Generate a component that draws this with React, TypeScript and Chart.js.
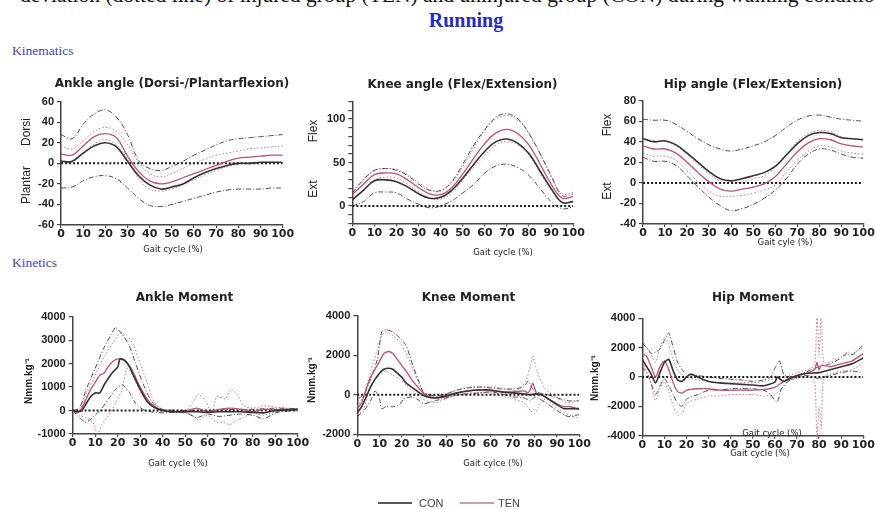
import React, { useEffect, useRef } from 'react';
import { Chart, registerables } from 'chart.js';
Chart.register(...registerables);

// ---------- data ----------
const GAIT = [0, 5, 10, 15, 20, 25, 30, 35, 40, 45, 50, 55, 60, 65, 70, 75, 80, 85, 90, 95, 100];
const X_TICKS = [0, 10, 20, 30, 40, 50, 60, 70, 80, 90, 100];

// Ankle angle
const ankConMean = [2, 2, 10, 17, 20, 16, 2, -12, -21, -25, -23, -20, -14, -9, -5, -2, 0, 0, 1, 1, 1];
const ankTenMean = [9, 8, 17, 26, 29, 25, 7, -8, -17, -20, -18, -14, -10, -6, -2, 2, 5, 6, 7, 8, 8];
const ankConUp = [28, 24, 38, 48, 52, 45, 28, 3, -5, -7, -3, 2, 8, 13, 18, 22, 24, 25, 26, 27, 28];
const ankConLo = [-24, -23, -17, -13, -12, -15, -24, -34, -41, -42, -40, -37, -34, -31, -28, -26, -25, -25, -25, -24, -24];
const ankTenUp = [17, 14, 22, 31, 35, 31, 18, 1, -10, -13, -10, -5, 0, 4, 8, 10, 12, 14, 15, 16, 17];
const ankTenLo = [2, 1, 10, 19, 23, 18, 4, -15, -25, -27, -25, -21, -16, -11, -7, -3, -1, 0, 1, 1, 1];

// Knee angle
const kneConMean = [7, 18, 29, 30, 28, 22, 14, 9, 10, 18, 32, 48, 63, 74, 77, 72, 60, 40, 20, 4, 5];
const kneTenMean = [13, 25, 36, 38, 37, 30, 21, 14, 13, 21, 37, 55, 72, 84, 88, 83, 70, 48, 25, 9, 11];
const kneConUp = [15, 30, 41, 43, 41, 35, 25, 18, 18, 28, 48, 70, 88, 102, 106, 100, 83, 60, 35, 12, 14];
const kneConLo = [0, 5, 15, 16, 15, 8, 2, -2, 0, 6, 15, 25, 38, 46, 48, 44, 35, 20, 5, -3, -1];
const kneTenUp = [18, 30, 41, 43, 42, 36, 27, 19, 17, 27, 45, 67, 87, 100, 104, 98, 84, 60, 33, 14, 16];
const kneTenLo = [8, 18, 30, 33, 32, 25, 16, 9, 8, 15, 30, 45, 58, 70, 74, 70, 58, 38, 18, 4, 6];

// Hip angle
const hipConMean = [43, 40, 41, 37, 29, 20, 11, 4, 2, 4, 7, 10, 16, 27, 38, 46, 49, 48, 44, 43, 42];
const hipTenMean = [36, 33, 33, 29, 20, 10, 1, -6, -8, -6, -4, -1, 6, 18, 30, 39, 43, 42, 38, 36, 35];
const hipConUp = [62, 61, 61, 57, 50, 43, 37, 33, 31, 33, 36, 40, 46, 54, 61, 65, 66, 64, 62, 61, 60];
const hipConLo = [25, 21, 21, 17, 7, -4, -14, -22, -27, -25, -21, -15, -7, 4, 18, 28, 33, 32, 28, 25, 24];
const hipTenUp = [43, 41, 40, 36, 28, 18, 9, 2, 0, 1, 4, 7, 15, 27, 40, 48, 51, 50, 45, 43, 42];
const hipTenLo = [29, 26, 26, 22, 12, 1, -8, -13, -13, -12, -10, -7, -2, 10, 22, 31, 36, 35, 31, 29, 28];

// Ankle moment
const amConX = [0, 2, 4, 6, 8, 10, 12, 14, 16, 18, 20, 21, 23, 25, 27, 30, 33, 36, 40, 45, 50, 55, 60, 65, 70, 75, 80, 85, 90, 95, 100];
const amConY = [0, -50, 0, 300, 600, 750, 750, 1100, 1400, 1650, 1850, 2200, 2150, 1900, 1500, 900, 400, 150, 0, -50, -50, -50, -80, -50, -50, -50, -80, -100, 0, 30, 50];
const amTenX = [0, 2, 4, 6, 8, 10, 12, 14, 16, 18, 20, 22, 24, 26, 28, 30, 33, 36, 40, 45, 50, 55, 60, 65, 70, 75, 80, 85, 90, 95, 100];
const amTenY = [0, -100, 100, 500, 900, 1200, 1500, 1600, 1900, 2100, 2200, 2180, 2050, 1800, 1400, 1000, 500, 200, 0, -50, -50, 100, -50, 50, 100, 50, -50, 50, 30, 50, 50];
const amConUpX = [0, 3, 6, 10, 14, 18, 19, 22, 25, 28, 31, 35, 40, 50, 60, 70, 80, 90, 100];
const amConUpY = [0, 100, 900, 1800, 2700, 3400, 3550, 3250, 2800, 2000, 1200, 400, 50, 0, 0, 50, 50, 100, 80];
const amConLoX = [0, 3, 6, 10, 13, 16, 19, 22, 25, 28, 32, 40, 50, 55, 60, 65, 70, 75, 80, 85, 90, 100];
const amConLoY = [0, -300, -500, -200, 100, 500, 900, 1100, 800, 300, 0, -100, -80, -300, -150, -250, -200, -150, -200, -350, -100, 30];
const amTenUpX = [0, 3, 6, 10, 14, 18, 21, 24, 27, 30, 33, 36, 40, 45, 50, 53, 56, 59, 62, 64, 68, 70, 73, 76, 80, 85, 90, 95, 100];
const amTenUpY = [0, 0, 700, 1500, 2300, 2900, 3300, 3200, 2800, 2000, 1200, 400, 0, -50, -100, 300, 700, 400, -100, 600, 500, 900, 700, 200, 100, 200, 150, 100, 80];
const amTenLoX = [0, 3, 6, 9, 11, 13, 16, 19, 22, 24, 26, 29, 32, 36, 40, 45, 50, 53, 56, 60, 64, 67, 70, 73, 76, 80, 85, 90, 95, 100];
const amTenLoY = [0, -200, -300, -500, -1000, -600, -200, 300, 900, 1800, 1600, 1000, 500, 100, -50, -50, -80, -200, -400, -200, -500, -500, -600, -400, -300, -100, -200, -50, 0, 30];

// Knee moment
const kmConX = [0, 2, 4, 6, 8, 10, 12, 14, 16, 18, 20, 22, 25, 28, 30, 33, 36, 40, 45, 50, 55, 60, 65, 70, 75, 78, 80, 83, 86, 90, 93, 96, 100];
const kmConY = [-900, -600, -100, 400, 800, 1100, 1300, 1350, 1300, 1100, 900, 600, 350, 100, -50, -150, -150, -50, 100, 200, 250, 250, 150, 100, 50, 0, 50, 0, -200, -500, -700, -700, -700];
const kmTenX = [0, 2, 4, 6, 8, 10, 12, 14, 16, 18, 20, 22, 25, 28, 30, 33, 36, 40, 45, 50, 55, 60, 65, 70, 75, 77, 78, 79, 80, 81, 83, 86, 90, 93, 96, 100];
const kmTenY = [-700, -400, 300, 900, 1300, 1700, 2100, 2200, 2100, 1800, 1500, 1200, 700, 300, 50, -100, -150, -100, 100, 200, 250, 200, 150, 150, 200, 100, 300, 600, 300, 0, 0, -200, -450, -600, -600, -750];
const kmConUpX = [0, 3, 6, 9, 11, 13, 16, 19, 22, 25, 28, 30, 35, 40, 45, 50, 55, 60, 65, 70, 75, 77, 79, 82, 86, 90, 95, 100];
const kmConUpY = [-200, 0, 800, 1800, 3200, 3300, 3200, 2900, 2500, 1500, 600, 100, -50, 50, 250, 350, 400, 350, 300, 300, 400, 700, 300, 100, 0, -150, -300, -300];
const kmConLoX = [0, 3, 6, 8, 10, 11, 13, 16, 19, 21, 25, 28, 30, 35, 40, 45, 50, 55, 60, 65, 70, 75, 78, 80, 85, 90, 95, 100];
const kmConLoY = [-1100, -800, -300, 200, -200, -700, -600, -600, -500, -200, -100, -300, -450, -300, -150, 0, 50, 100, 150, 50, -100, -150, -300, -100, -400, -800, -1100, -1000];
const kmTenUpX = [0, 3, 6, 9, 11, 13, 16, 19, 22, 25, 28, 30, 35, 40, 45, 50, 55, 60, 65, 70, 73, 76, 78, 79, 81, 84, 88, 92, 96, 100];
const kmTenUpY = [-600, 0, 1200, 2300, 3000, 3200, 3000, 2700, 2100, 1300, 500, 100, -100, 50, 250, 400, 400, 400, 350, 200, 300, 700, 1500, 2000, 1200, 400, 0, -300, -400, -250];
const kmTenLoX = [0, 3, 6, 9, 11, 13, 16, 19, 22, 25, 28, 31, 35, 40, 45, 50, 55, 60, 65, 70, 75, 78, 80, 82, 85, 90, 95, 100];
const kmTenLoY = [-1000, -700, 500, 900, 1100, 1200, 1000, 800, 500, 200, -100, -300, -400, -200, 0, 100, 100, 100, -50, -200, -400, -800, -950, -500, -200, -700, -1000, -1200];

// Hip moment
const hmConX = [0, 2, 4, 6, 8, 10, 12, 14, 16, 18, 20, 22, 25, 30, 35, 40, 45, 50, 55, 60, 61, 62, 64, 67, 70, 75, 80, 85, 90, 95, 100];
const hmConY = [1200, 700, 200, -400, 300, 1000, 1200, 400, -200, -300, 0, 200, 0, -300, -400, -450, -500, -550, -600, -350, 0, -100, -300, -100, 100, 250, 300, 500, 700, 900, 1300];
const hmTenX = [0, 2, 4, 6, 8, 10, 12, 14, 16, 18, 20, 25, 30, 35, 40, 45, 50, 55, 60, 63, 66, 70, 75, 78, 79, 80, 81, 85, 90, 95, 100];
const hmTenY = [1600, 1400, 700, 0, 700, 1100, 500, -400, -1000, -1100, -900, -800, -800, -900, -900, -900, -900, -850, -700, -400, -100, 100, 300, 500, 1000, 500, 800, 700, 900, 1100, 1600];
const hmConUpX = [0, 2, 4, 6, 8, 10, 12, 14, 16, 18, 20, 25, 30, 35, 40, 45, 50, 55, 58, 60, 62, 64, 67, 70, 75, 80, 85, 90, 93, 95, 100];
const hmConUpY = [2300, 2000, 1600, 1700, 1900, 2500, 3000, 2000, 1000, 500, 200, 100, 0, -100, -150, -200, -300, -200, 0, 600, 1100, 200, 0, 100, 400, 700, 900, 1300, 1700, 1500, 2200];
const hmConLoX = [0, 3, 6, 8, 10, 12, 14, 16, 18, 20, 25, 30, 35, 40, 45, 50, 55, 58, 61, 63, 66, 70, 75, 80, 85, 90, 95, 100];
const hmConLoY = [700, 0, -1200, -600, -100, -600, -1200, -1800, -2000, -1500, -1200, -900, -900, -800, -800, -800, -900, -1200, -1700, -800, -300, 0, 100, -100, 100, 300, 400, 300];
const hmTenUpX = [0, 2, 4, 6, 8, 10, 12, 14, 16, 18, 20, 25, 30, 35, 40, 45, 50, 55, 60, 65, 70, 75, 78, 79, 80, 81, 82, 85, 90, 95, 100];
const hmTenUpY = [2500, 2000, 1500, 1000, 2000, 2700, 2200, 1200, 400, 200, 0, -200, -300, -400, -400, -400, -400, -300, -100, 0, 300, 500, 800, 4500, 1500, 4500, 1000, 1000, 1400, 1600, 2000];
const hmTenLoX = [0, 3, 6, 8, 10, 12, 14, 16, 18, 20, 25, 30, 35, 40, 45, 50, 55, 60, 63, 66, 70, 75, 78, 79, 80, 81, 82, 85, 90, 95, 100];
const hmTenLoY = [1000, 0, -1600, -800, -300, -1000, -2000, -2600, -2500, -1800, -1500, -1300, -1300, -1200, -1200, -1200, -1300, -1200, -800, -300, -100, 0, -300, -4500, -2000, -3500, 0, 200, 400, 500, 1000];

// ---------- styles ----------
const AXIS = '#454545';
const TXT = '#222';
const CON_MEAN = '#333333';
const TEN_MEAN = '#c2506f';
const CON_SD = '#4a4a4a';
const TEN_SD = '#c8768d';
const X_TICK_FONT = { family: "'DejaVu Sans'", size: 11, weight: 'bold' as const };
const Y_TICK_FONT = { family: "'Liberation Sans'", size: 11, weight: 'bold' as const };
const TITLE_FONT = "bold 12px 'DejaVu Sans'";
const SIDE_FONT = "12px 'Liberation Sans'";
const UNIT_FONT = "bold 10px 'Liberation Sans'";
const XT_FONT = "8.5px 'DejaVu Sans'";

type Pair = [number[], number[]];
type TextItem = { text: string; x: number; y: number; font: string; rot?: boolean };
type Panel = {
  key: string;
  cx: number; cy: number; w: number; h: number;
  area: [number, number, number, number];
  yMin: number; yMax: number; yStep: number; yShow?: number[];
  tension: number;
  s: { conMean: Pair; tenMean: Pair; conUp: Pair; conLo: Pair; tenUp: Pair; tenLo: Pair };
  texts: TextItem[];
};

const PANELS: Panel[] = [
  {
    key: 'ankA', cx: 0, cy: 60, w: 300, h: 200, area: [61, 101.7, 282.7, 225],
    yMin: -60, yMax: 60, yStep: 20, tension: 0.4,
    s: { conMean: [GAIT, ankConMean], tenMean: [GAIT, ankTenMean], conUp: [GAIT, ankConUp], conLo: [GAIT, ankConLo], tenUp: [GAIT, ankTenUp], tenLo: [GAIT, ankTenLo] },
    texts: [
      { text: 'Ankle angle (Dorsi-/Plantarflexion)', x: 172, y: 84, font: TITLE_FONT },
      { text: 'Dorsi', x: 27, y: 132, font: SIDE_FONT, rot: true },
      { text: 'Plantar', x: 27, y: 185, font: SIDE_FONT, rot: true },
      { text: 'Gait cycle (%)', x: 173, y: 250, font: XT_FONT },
    ],
  },
  {
    key: 'kneA', cx: 295, cy: 60, w: 300, h: 200, area: [352.3, 101.6, 573.3, 223.4],
    yMin: -20, yMax: 120, yStep: 10, yShow: [0, 50, 100], tension: 0.4,
    s: { conMean: [GAIT, kneConMean], tenMean: [GAIT, kneTenMean], conUp: [GAIT, kneConUp], conLo: [GAIT, kneConLo], tenUp: [GAIT, kneTenUp], tenLo: [GAIT, kneTenLo] },
    texts: [
      { text: 'Knee angle (Flex/Extension)', x: 462.5, y: 85, font: TITLE_FONT },
      { text: 'Flex', x: 314, y: 131, font: SIDE_FONT, rot: true },
      { text: 'Ext', x: 314, y: 189, font: SIDE_FONT, rot: true },
      { text: 'Gait cycle (%)', x: 503, y: 252.7, font: XT_FONT },
    ],
  },
  {
    key: 'hipA', cx: 585, cy: 60, w: 300, h: 200, area: [643, 100.7, 863.3, 224],
    yMin: -40, yMax: 80, yStep: 20, tension: 0.4,
    s: { conMean: [GAIT, hipConMean], tenMean: [GAIT, hipTenMean], conUp: [GAIT, hipConUp], conLo: [GAIT, hipConLo], tenUp: [GAIT, hipTenUp], tenLo: [GAIT, hipTenLo] },
    texts: [
      { text: 'Hip angle (Flex/Extension)', x: 753, y: 85, font: TITLE_FONT },
      { text: 'Flex', x: 608, y: 125, font: SIDE_FONT, rot: true },
      { text: 'Ext', x: 608, y: 191, font: SIDE_FONT, rot: true },
      { text: 'Gait cyle (%)', x: 785, y: 243, font: XT_FONT },
    ],
  },
  {
    key: 'ankM', cx: 0, cy: 280, w: 315, h: 200, area: [72.7, 316.7, 297.7, 434],
    yMin: -1000, yMax: 4000, yStep: 1000, tension: 0.2,
    s: { conMean: [amConX, amConY], tenMean: [amTenX, amTenY], conUp: [amConUpX, amConUpY], conLo: [amConLoX, amConLoY], tenUp: [amTenUpX, amTenUpY], tenLo: [amTenLoX, amTenLoY] },
    texts: [
      { text: 'Ankle Moment', x: 184.5, y: 298, font: TITLE_FONT },
      { text: 'Nmm.kg⁻¹', x: 29, y: 381, font: UNIT_FONT, rot: true },
      { text: 'Gait cycle (%)', x: 178, y: 464, font: XT_FONT },
    ],
  },
  {
    key: 'kneM', cx: 295, cy: 280, w: 300, h: 200, area: [357.3, 316, 579.3, 434.3],
    yMin: -2000, yMax: 4000, yStep: 2000, tension: 0.2,
    s: { conMean: [kmConX, kmConY], tenMean: [kmTenX, kmTenY], conUp: [kmConUpX, kmConUpY], conLo: [kmConLoX, kmConLoY], tenUp: [kmTenUpX, kmTenUpY], tenLo: [kmTenLoX, kmTenLoY] },
    texts: [
      { text: 'Knee Moment', x: 468.5, y: 298, font: TITLE_FONT },
      { text: 'Nmm.kg⁻¹', x: 312, y: 380, font: UNIT_FONT, rot: true },
      { text: 'Gait cylce (%)', x: 493, y: 464, font: XT_FONT },
    ],
  },
  {
    key: 'hipM', cx: 580, cy: 280, w: 300, h: 200, area: [642.3, 318.3, 863.3, 435.7],
    yMin: -4000, yMax: 4000, yStep: 2000, tension: 0.2,
    s: { conMean: [hmConX, hmConY], tenMean: [hmTenX, hmTenY], conUp: [hmConUpX, hmConUpY], conLo: [hmConLoX, hmConLoY], tenUp: [hmTenUpX, hmTenUpY], tenLo: [hmTenLoX, hmTenLoY] },
    texts: [
      { text: 'Hip Moment', x: 753, y: 298, font: TITLE_FONT },
      { text: 'Nmm.kg⁻¹', x: 595, y: 378, font: UNIT_FONT, rot: true },
      { text: 'Gait cycle (%)', x: 772, y: 433.3, font: XT_FONT },
      { text: 'Gait cycle (%)', x: 760, y: 454, font: XT_FONT },
    ],
  },
];

const decorPlugin = {
  id: 'decor',
  afterDraw(chart: any, _args: any, opts: any) {
    const ctx = chart.ctx as CanvasRenderingContext2D;
    const items: TextItem[] = opts.items || [];
    const ox = opts.ox || 0;
    const oy = opts.oy || 0;
    items.forEach((it) => {
      ctx.save();
      ctx.font = it.font;
      ctx.fillStyle = TXT;
      ctx.textAlign = 'center';
      ctx.textBaseline = 'middle';
      ctx.translate(it.x - ox, it.y - oy);
      if (it.rot) ctx.rotate(-Math.PI / 2);
      ctx.fillText(it.text, 0, 0);
      ctx.restore();
    });
  },
};

function PanelChart({ p }: { p: Panel }) {
  const ref = useRef<HTMLCanvasElement>(null);
  useEffect(() => {
    if (!ref.current) return;
    const [l, t, r, b] = p.area;
    const yW = l - p.cx;
    const padTop = t - p.cy;
    const padRight = p.cx + p.w - r;
    const xH = p.cy + p.h - b;
    const mk = (pair: Pair, color: string, width: number, dash: number[], order: number) => ({
      data: pair[0].map((x, i) => ({ x, y: pair[1][i] })),
      borderColor: color,
      borderWidth: width,
      borderDash: dash,
      pointRadius: 0,
      tension: p.tension,
      fill: false,
      order,
    });
    const datasets = [
      mk(p.s.conMean, CON_MEAN, 1.6, [], 0),
      mk(p.s.tenMean, TEN_MEAN, 1.3, [], 1),
      mk([[0, 100], [0, 0]], '#1a1a1a', 2, [2, 2], 2),
      mk(p.s.conUp, CON_SD, 1, [5, 2, 1, 2], 3),
      mk(p.s.conLo, CON_SD, 1, [5, 2, 1, 2], 4),
      mk(p.s.tenUp, TEN_SD, 1, [1.5, 2], 5),
      mk(p.s.tenLo, TEN_SD, 1, [1.5, 2], 6),
    ];
    const chart = new Chart(ref.current, {
      type: 'line',
      data: { datasets },
      options: {
        animation: false,
        responsive: false,
        devicePixelRatio: 1,
        layout: { padding: { left: 0, top: padTop, right: padRight, bottom: 0 } },
        plugins: {
          legend: { display: false },
          tooltip: { enabled: false },
          decor: { items: p.texts, ox: p.cx, oy: p.cy },
        } as any,
        scales: {
          x: {
            type: 'linear',
            min: 0,
            max: 100,
            afterBuildTicks: (s: any) => { s.ticks = X_TICKS.map((v) => ({ value: v })); },
            ticks: { autoSkip: false, maxRotation: 0, minRotation: 0, font: X_TICK_FONT, color: TXT, padding: 0, callback: (v: any) => String(v) },
            grid: { drawOnChartArea: false, tickLength: 3, color: AXIS, lineWidth: 1.2 },
            border: { color: AXIS, width: 1.5 },
            afterFit: (s: any) => { s.height = xH; },
          },
          y: {
            type: 'linear',
            min: p.yMin,
            max: p.yMax,
            ticks: {
              stepSize: p.yStep,
              autoSkip: false,
              font: Y_TICK_FONT,
              color: TXT,
              padding: 3,
              callback: (v: any) => (p.yShow ? (p.yShow.includes(Number(v)) ? String(v) : '') : String(v)),
            },
            grid: { drawOnChartArea: false, tickLength: 4, color: AXIS, lineWidth: 1.2 },
            border: { color: AXIS, width: 1.5 },
            afterFit: (s: any) => { s.width = yW; },
          },
        },
      } as any,
      plugins: [decorPlugin as any],
    });
    return () => chart.destroy();
  }, [p]);
  return (
    <canvas
      ref={ref}
      width={p.w}
      height={p.h}
      style={{ position: 'absolute', left: p.cx, top: p.cy, width: p.w, height: p.h }}
    />
  );
}

export default function App() {
  return (
    <div style={{ position: 'absolute', left: 0, top: 0, width: 875, height: 509, overflow: 'hidden', background: '#fff' }}>
      <div style={{ position: 'absolute', left: 20, top: -15, font: "21.5px 'Liberation Serif'", lineHeight: '20px', color: '#111', whiteSpace: 'nowrap' }}>
        deviation (dotted line) of injured group (TEN) and uninjured group (CON) during walking condition
      </div>
      <div style={{ position: 'absolute', left: 366, width: 200, top: 10, textAlign: 'center', font: "bold 20px 'Liberation Serif'", lineHeight: '20px', color: '#2a2ab8' }}>
        Running
      </div>
      <div style={{ position: 'absolute', left: 12, top: 43.5, font: "13.5px 'Liberation Serif'", lineHeight: '14px', color: '#4545b0' }}>
        Kinematics
      </div>
      <div style={{ position: 'absolute', left: 12, top: 256, font: "13.5px 'Liberation Serif'", lineHeight: '14px', color: '#4545b0' }}>
        Kinetics
      </div>
      {PANELS.map((p) => (
        <PanelChart key={p.key} p={p} />
      ))}
      <div style={{ position: 'absolute', left: 378, top: 502, width: 34, height: 1.5, background: '#555' }} />
      <div style={{ position: 'absolute', left: 419, top: 496, font: "11px 'Liberation Sans'", lineHeight: '14px', color: '#444' }}>CON</div>
      <div style={{ position: 'absolute', left: 460, top: 502, width: 34, height: 1.5, background: '#d59aab' }} />
      <div style={{ position: 'absolute', left: 498, top: 496, font: "11px 'Liberation Sans'", lineHeight: '14px', color: '#444' }}>TEN</div>
    </div>
  );
}
